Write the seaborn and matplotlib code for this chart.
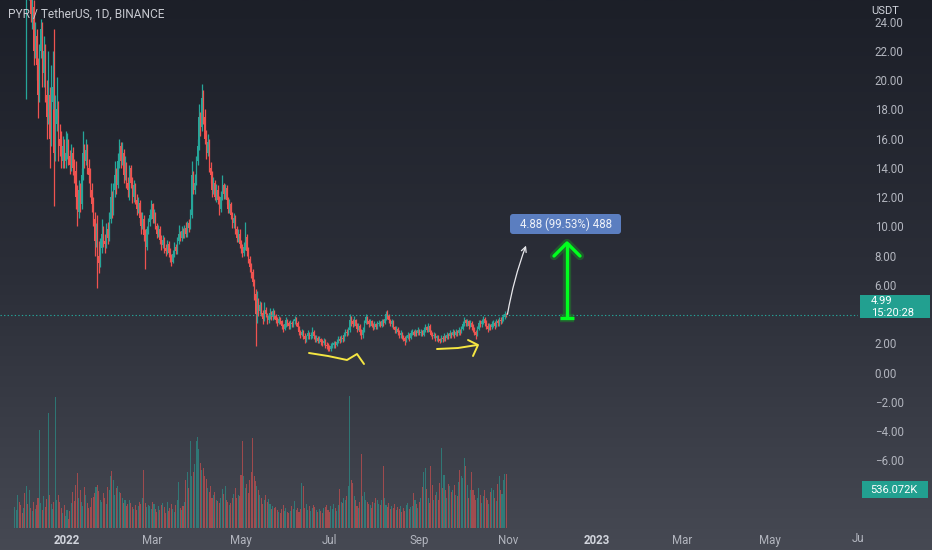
import numpy as np
import pandas as pd
import matplotlib
matplotlib.use('Agg')
import matplotlib.pyplot as plt
import matplotlib.dates as mdates
from matplotlib.colors import LinearSegmentedColormap
from matplotlib.patches import FancyBboxPatch, Rectangle
import seaborn as sns

# daily candles PYR/USDT (price axis units)
dates = pd.date_range('2021-11-26', '2022-10-31', freq='D')

first_open = 32.0
closes = [
    33, 34.5, 36, 35, 31.5, 30, 32, 27.5, 28.5, 27,
    27.5, 24.5, 25, 22, 23, 21, 19, 22, 23.5, 20.5,
    22, 19, 17.5, 19, 16, 18.5, 19.5, 15, 17, 18,
    16, 15.5, 14.5, 15.5, 14.5, 15, 15.8, 14.8, 14.2, 15,
    14, 13.8, 12, 11, 12.5, 11.5, 13.5, 15, 14.5, 15.2,
    14, 13.5, 12.5, 11.5, 10.5, 9, 9.6, 8, 7.5, 8.5,
    9.5, 9, 8.8, 9.8, 9.2, 10.5, 12, 11, 12.5, 13.5,
    12.8, 14.5, 15.5, 14.5, 15, 13.5, 14.2, 13, 12.5, 14,
    13, 12, 12.8, 11.8, 11.2, 11.6, 10.6, 10, 10.5, 9.4,
    8.6, 9.8, 10.3, 10.8, 11.5, 10.5, 10.9, 10, 9.5, 9.8,
    9.1, 8.7, 9.1, 8.5, 8.3, 8.8, 8.2, 7.9, 7.6, 8.1,
    8.6, 8.3, 9.0, 9.5, 9.2, 9.7, 9.4, 9.9, 9.5, 10.2,
    9.9, 10.8, 13.5, 12.5, 13.0, 14.5, 15.5, 17.5, 16.8, 18.8,
    17.5, 16, 15, 15.8, 14, 13.5, 12.5, 13, 12, 12.5,
    11.8, 11.2, 12, 12.8, 12.2, 12.6, 11.8, 11.2, 11.5, 10.8,
    10.2, 10.6, 9.8, 9.2, 9.5, 8.8, 8.5, 8.2, 8.6, 9.3,
    8.3, 7.8, 7.2, 6.9, 6.2, 5.4, 4.0, 4.8, 4.2, 4.6,
    4.1, 3.7, 4.3, 4.0, 3.6, 3.9, 4.1, 3.8, 4.2, 3.9,
    3.6, 3.4, 3.7, 3.5, 3.2, 3.0, 3.3, 3.6, 3.4, 3.2,
    3.4, 3.3, 3.5, 3.7, 3.4, 3.1, 2.8, 2.6, 2.8, 2.5,
    2.3, 2.5, 2.7, 2.5, 2.6, 2.8, 2.5, 2.3, 2.4, 2.2,
    2.3, 2.1, 2.0, 2.2, 1.9, 1.8, 1.7, 1.6, 1.8, 1.9,
    2.0, 1.9, 2.1, 2.3, 2.2, 2.4, 2.3, 2.6, 2.8, 2.7,
    2.9, 3.6, 3.5, 3.3, 3.6, 3.2, 3.0, 3.2, 2.8, 2.6,
    2.9, 3.4, 3.8, 3.5, 3.3, 3.5, 3.2, 3.1, 3.3, 3.1,
    3.3, 3.4, 3.2, 3.5, 3.4, 3.7, 4.0, 3.9, 3.6, 3.3,
    3.5, 3.1, 2.9, 3.0, 2.8, 2.6, 2.7, 2.5, 2.4, 2.2,
    2.4, 2.6, 2.4, 2.7, 2.8, 2.6, 2.8, 2.7, 2.9, 2.7,
    2.8, 2.6, 2.9, 3.1, 2.9, 3.2, 2.8, 2.6, 2.5, 2.6,
    2.4, 2.5, 2.3, 2.2, 2.4, 2.3, 2.5, 2.4, 2.6, 2.5,
    2.7, 2.6, 2.8, 2.6, 2.8, 2.7, 2.9, 2.8, 3.0, 3.3,
    3.6, 3.4, 3.5, 3.2, 3.4, 3.1, 3.0, 2.8, 2.6, 3.0,
    3.4, 3.3, 3.5, 3.7, 3.4, 3.2, 3.0, 3.2, 3.1, 3.3,
    3.4, 3.2, 3.5, 3.4, 3.6, 3.5, 3.7, 3.8, 4.0, 3.93,
]
highs = [
    34.5, 36, 37.5, 37, 36, 32.5, 33, 32.5, 30, 29.5,
    29, 28.5, 26.5, 25.5, 24, 23.5, 21.5, 22.5, 24.2, 24,
    23, 22.5, 20, 22, 19.5, 21, 22, 23.5, 19, 20.2,
    18.6, 17, 16.5, 16.2, 16, 16.5, 16.4, 16, 15.2, 15.6,
    15.4, 14.6, 14.5, 12.8, 13.2, 13, 14, 16.5, 15.6, 16,
    15.6, 14.6, 14, 13, 12, 11, 10.2, 10.8, 9, 9.2,
    10.5, 10, 9.5, 10.2, 10.3, 11, 13, 12.4, 13, 14.5,
    14, 15, 16, 15.8, 15.8, 15.3, 14.8, 14.4, 13.4, 14.2,
    14.2, 13.4, 13.2, 13, 12.2, 12, 11.8, 11, 11, 10.8,
    9.8, 10, 10.6, 11.2, 11.8, 11.6, 11.2, 11, 10.2, 10.1,
    10, 9.4, 9.4, 9.3, 8.8, 9.1, 9, 8.5, 8.1, 8.4,
    8.9, 8.8, 9.3, 10.1, 9.7, 10, 9.9, 10.1, 10.3, 10.4,
    10.5, 11.2, 14.5, 13.8, 13.6, 14.8, 16, 18.4, 17.8, 19.7,
    19.3, 18, 16.6, 16.3, 16, 14.4, 13.8, 13.4, 13.2, 12.9,
    12.8, 12.1, 12.4, 13.5, 13, 12.9, 12.8, 12, 11.9, 11.7,
    11, 10.9, 10.8, 10, 9.8, 9.8, 9.1, 8.8, 8.9, 10.3,
    9.5, 8.6, 8, 7.5, 7.1, 6.4, 5.7, 5.6, 5.1, 4.9,
    4.8, 4.3, 4.8, 4.5, 4.1, 4.1, 4.4, 4.2, 4.4, 4.3,
    4.0, 3.8, 3.9, 3.8, 3.6, 3.3, 3.5, 3.8, 3.7, 3.5,
    3.6, 3.5, 3.7, 3.9, 3.8, 3.5, 3.2, 2.9, 3.0, 2.9,
    2.7, 2.6, 2.9, 2.8, 2.8, 3.1, 2.9, 2.6, 2.6, 2.5,
    2.5, 2.4, 2.3, 2.4, 2.3, 2.1, 2.0, 1.9, 2.0, 2.1,
    2.2, 2.2, 2.3, 2.5, 2.5, 2.6, 2.6, 2.8, 3.0, 3.0,
    3.1, 4.0, 3.9, 3.7, 3.9, 3.7, 3.4, 3.4, 3.3, 3.0,
    3.1, 3.6, 4.0, 3.9, 3.7, 3.7, 3.6, 3.4, 3.5, 3.4,
    3.5, 3.6, 3.5, 3.7, 3.7, 3.9, 4.2, 4.3, 4.0, 3.7,
    3.7, 3.6, 3.2, 3.2, 3.1, 2.9, 2.9, 2.8, 2.6, 2.5,
    2.6, 2.8, 2.7, 2.9, 3.0, 2.9, 3.0, 2.9, 3.1, 3.0,
    3.0, 2.9, 3.1, 3.3, 3.2, 3.4, 3.3, 2.9, 2.8, 2.8,
    2.7, 2.6, 2.6, 2.4, 2.6, 2.5, 2.7, 2.6, 2.8, 2.7,
    2.9, 2.8, 3.0, 2.9, 3.0, 2.9, 3.1, 3.0, 3.2, 3.5,
    3.8, 3.7, 3.7, 3.6, 3.6, 3.5, 3.3, 3.1, 2.9, 3.2,
    3.6, 3.6, 3.7, 3.9, 3.8, 3.6, 3.4, 3.4, 3.3, 3.5,
    3.6, 3.5, 3.7, 3.7, 3.8, 3.8, 3.9, 4.0, 4.2, 4.1,
]
lows = [
    30.5, 32, 33.5, 34, 30.5, 28.5, 29, 26.5, 18.7, 26,
    25.5, 24, 23.5, 21, 21.5, 20, 17.4, 18.5, 21.5, 19.5,
    19.5, 18.5, 16, 17, 14, 15.5, 18, 11.4, 14.5, 16.5,
    14.5, 14.8, 14, 14, 14, 14, 14.6, 14.2, 13.6, 13.8,
    13.5, 13, 11.2, 10, 10.6, 11, 11.2, 13.2, 14, 14.2,
    13.6, 13, 12, 11, 10, 8, 8.6, 5.8, 6.8, 7.2,
    8.2, 8.6, 8.2, 8.5, 8.8, 9, 10.2, 10.6, 10.8, 12,
    12.2, 12.6, 14, 14, 14.2, 13, 13.2, 12.6, 12, 11.8,
    12.6, 11.6, 11.7, 11.5, 10.8, 10.9, 10.2, 9.5, 9.8, 9,
    7.1, 8.4, 9.5, 10, 10.5, 10.2, 10.2, 9.8, 9.2, 9.3,
    8.8, 8.4, 8.5, 8.2, 8, 8.1, 7.9, 7.6, 7.3, 7.5,
    7.9, 8.1, 8.1, 8.8, 9, 9, 9.2, 9.2, 9.3, 9.3,
    9.6, 9.8, 10.6, 12.2, 12.2, 12.8, 14.2, 15.2, 16.2, 16.5,
    17, 15.6, 14.6, 14.8, 13.7, 13, 12, 12.2, 11.8, 11.7,
    11.5, 10.8, 11, 11.8, 11.9, 11.9, 11.5, 10.9, 10.9, 10.5,
    9.9, 9.9, 9.5, 8.9, 8.9, 8.5, 8.2, 7.9, 8, 8.4,
    8, 7.5, 6.9, 6.5, 5.9, 5, 1.8, 3.4, 3.9, 4,
    3.9, 3.3, 3.5, 3.8, 3.3, 3.4, 3.7, 3.6, 3.6, 3.7,
    3.4, 3.2, 3.3, 3.3, 3.0, 2.8, 2.9, 3.1, 3.2, 3.0,
    3.0, 3.1, 3.1, 3.3, 3.2, 2.9, 2.6, 2.4, 2.5, 2.3,
    2.0, 2.1, 2.3, 2.3, 2.3, 2.4, 2.3, 2.1, 2.1, 2.0,
    2.0, 1.9, 1.8, 1.9, 1.7, 1.6, 1.5, 1.45, 1.5, 1.7,
    1.7, 1.7, 1.8, 2.0, 2.0, 2.1, 2.1, 2.2, 2.5, 2.5,
    2.6, 2.8, 3.2, 3.1, 3.2, 3.1, 2.8, 2.9, 2.6, 2.3,
    2.4, 2.8, 3.3, 3.3, 3.1, 3.2, 3.1, 2.9, 3.0, 3.0,
    3.0, 3.2, 3.1, 3.1, 3.2, 3.3, 3.6, 3.7, 3.4, 3.2,
    3.1, 3.0, 2.7, 2.7, 2.6, 2.4, 2.4, 2.3, 2.2, 1.9,
    2.1, 2.3, 2.2, 2.3, 2.6, 2.5, 2.5, 2.5, 2.6, 2.6,
    2.5, 2.5, 2.5, 2.8, 2.8, 2.8, 2.7, 2.5, 2.3, 2.4,
    2.2, 2.2, 2.1, 2.0, 2.1, 2.1, 2.2, 2.2, 2.3, 2.3,
    2.4, 2.4, 2.5, 2.4, 2.5, 2.5, 2.6, 2.6, 2.7, 2.9,
    3.2, 3.2, 3.2, 3.0, 3.1, 2.9, 2.8, 2.6, 2.3, 2.5,
    2.9, 3.1, 3.1, 3.3, 3.2, 3.0, 2.8, 2.9, 2.9, 3.0,
    3.1, 3.0, 3.1, 3.2, 3.2, 3.3, 3.4, 3.5, 3.7, 3.8,
]
# volume in thousands
volumes = [
    210, 180, 330, 260, 230, 150, 200, 350, 415, 240,
    380, 200, 170, 260, 190, 230, 300, 975, 250, 180,
    320, 210, 290, 1140, 330, 240, 190, 260, 1300, 280,
    330, 260, 200, 150, 230, 120, 180, 90, 170, 250,
    360, 270, 430, 545, 300, 380, 260, 220, 410, 330,
    250, 200, 210, 300, 310, 350, 410, 430, 370, 280,
    260, 350, 300, 240, 410, 380, 520, 565, 480, 330,
    400, 420, 360, 350, 300, 250, 280, 220, 240, 280,
    250, 210, 190, 230, 180, 220, 260, 240, 300, 580,
    250, 210, 230, 220, 190, 260, 240, 190, 160, 220,
    180, 230, 250, 210, 150, 260, 170, 200, 240, 190,
    160, 230, 280, 460, 200, 180, 220, 260, 480, 560,
    400, 860, 520, 560, 640, 860, 900, 780, 650, 580,
    600, 520, 490, 400, 360, 420, 300, 330, 360, 280,
    270, 250, 300, 390, 340, 420, 280, 260, 230, 250,
    300, 340, 400, 300, 330, 320, 530, 860, 520, 400,
    440, 350, 480, 560, 890, 520, 470, 420, 380, 330,
    300, 240, 280, 330, 260, 290, 240, 190, 220, 200,
    210, 180, 160, 150, 190, 230, 170, 200, 160, 150,
    170, 220, 190, 270, 180, 200, 160, 190, 450, 420,
    200, 240, 180, 220, 170, 200, 230, 210, 180, 160,
    190, 170, 150, 200, 210, 230, 180, 160, 220, 190,
    240, 200, 170, 230, 390, 260, 250, 300, 280, 320,
    420, 1310, 480, 450, 320, 280, 220, 200, 260, 730,
    320, 360, 280, 260, 240, 230, 200, 260, 250, 300,
    280, 240, 230, 280, 620, 300, 230, 210, 250, 190,
    220, 200, 240, 180, 210, 190, 220, 160, 200, 170,
    230, 250, 190, 210, 220, 350, 280, 240, 200, 260,
    300, 410, 560, 600, 390, 300, 250, 620, 430, 280,
    330, 360, 280, 450, 790, 400, 530, 380, 300, 440,
    420, 360, 380, 430, 330, 320, 460, 580, 520, 500,
    690, 620, 430, 300, 380, 560, 380, 330, 280, 300,
    400, 330, 250, 320, 380, 300, 280, 240, 360, 400,
    380, 300, 270, 440, 520, 380, 340, 480, 540, 536.072,
]

price_ticks = [-6, -4, -2, 0, 2, 6, 8, 10, 12, 14, 16, 18, 20, 22, 24]
month_ticks = ['2022-01-01', '2022-03-01', '2022-05-01', '2022-07-01', '2022-09-01',
               '2022-11-01', '2023-01-01', '2023-03-01', '2023-05-01']
month_labels = ['2022', 'Mar', 'May', 'Jul', 'Sep', 'Nov', '2023', 'Mar', 'May']

df = pd.DataFrame({'date': dates, 'close': closes, 'high': highs, 'low': lows, 'volume': volumes})
df['open'] = [first_open] + closes[:-1]
df['up'] = df['close'] >= df['open']

UP = '#26a69a'
DOWN = '#ef5350'
cores = np.where(df['up'], UP, DOWN)

sns.set_theme(style='dark')
plt.rcParams['font.family'] = ['Roboto', 'DejaVu Sans']

W, H = 932, 550
fig = plt.figure(figsize=(W / 100, H / 100), dpi=100)

# background gradient
bg = fig.add_axes([0, 0, 1, 1], zorder=0)
grad = np.linspace(0, 1, 256).reshape(-1, 1)
cmap = LinearSegmentedColormap.from_list('tv', ['#1c1f28', '#2b2e38', '#464953'])
bg.imshow(grad, aspect='auto', cmap=cmap, extent=[0, 1, 0, 1], origin='upper')
bg.axis('off')

pos = [0, 22 / H, 858 / W, 528 / H]
ax = fig.add_axes(pos, zorder=1)
ax.set_facecolor('none')
ax2 = ax.twinx()
ax2.set_position(pos)
ax2.set_zorder(2)
ax2.patch.set_visible(False)

x = mdates.date2num(df['date'])
x0 = mdates.date2num(pd.Timestamp('2022-01-01'))

# velas
ax.vlines(x, df['low'], df['high'], colors=cores, linewidth=0.9)
body_bottom = np.minimum(df['open'], df['close'])
body_h = np.maximum(np.abs(df['close'] - df['open']), 0.03)
ax.bar(x, body_h, bottom=body_bottom, width=0.75, color=cores, linewidth=0)

# volume
ax2.bar(x, df['volume'], width=0.75, color=cores, alpha=0.55, linewidth=0)
ax2.set_ylim(0, 1310 * 528 / 132)
ax2.set_yticks([])

ax.set_xlim(x0 - 67 / 1.45, x0 + (858 - 67) / 1.45)
ax.set_ylim((372.7 - 528) / 14.63, 372.7 / 14.63)

ax.axhline(3.93, color=UP, linestyle=(0, (1.2, 2)), linewidth=0.8)

ax.yaxis.tick_right()
ax.set_yticks(price_ticks)
ax.set_yticklabels([f'{v:.2f}'.replace('-', '\u2212') for v in price_ticks])
ax.tick_params(axis='y', length=0, pad=12, labelsize=8.3, labelcolor='#b2b5be')

ax.set_xticks(mdates.date2num(pd.to_datetime(month_ticks)))
ax.set_xticklabels(month_labels)
ax.tick_params(axis='x', length=0, pad=4, labelsize=8.3, labelcolor='#b2b5be')
for lab in ax.get_xticklabels():
    if lab.get_text() in ('2022', '2023'):
        lab.set_fontweight('bold')
        lab.set_color('#d1d4dc')
for a in (ax, ax2):
    for s in a.spines.values():
        s.set_visible(False)
    a.grid(False)

# overlay in image pixels for the drawings and labels
ov = fig.add_axes([0, 0, 1, 1], zorder=5)
ov.set_xlim(0, W)
ov.set_ylim(H, 0)
ov.axis('off')
ov.patch.set_visible(False)

ov.text(8, 14, 'PYR / TetherUS, 1D, BINANCE', fontsize=8.6, color='#c8cad1', va='center')
ov.add_patch(Rectangle((862, 0), 66, 17, color='#1c1f28', linewidth=0))
ov.text(871, 11, 'USDT', fontsize=8, color='#d1d4dc', va='center')
ov.text(852, 538, 'Ju', fontsize=8.3, color='#b2b5be', va='center')

# last price box
ov.add_patch(Rectangle((860, 295), 70, 23, color='#22a090', linewidth=0))
ov.text(871, 301, '4.99', fontsize=8, color='white', va='center')
ov.text(871, 312.5, '15:20:28', fontsize=8, color='white', va='center')
# volume box
ov.add_patch(Rectangle((862, 481), 66, 17, color='#22a090', linewidth=0))
ov.text(870, 490, '536.072K', fontsize=8, color='white', va='center')

# white arrow and measure label
ov.annotate('', xy=(527, 243), xytext=(507, 317),
            arrowprops=dict(arrowstyle='->', color='#e8e8ec', lw=0.9,
                            connectionstyle='arc3,rad=-0.05', mutation_scale=9))
ov.add_patch(FancyBboxPatch((510, 214), 111, 20, boxstyle='round,pad=0,rounding_size=3',
                            facecolor='#5b7ec0', edgecolor='none'))
ov.text(565.5, 224.5, '4.88 (99.53%) 488', fontsize=8.3, color='#eef1f8', ha='center', va='center')

# green arrow
for lw, col, al in [(6, '#1e7d2a', 0.55), (2.4, '#00ff1e', 1)]:
    ov.plot([567, 567], [318, 243], color=col, lw=lw, alpha=al, solid_capstyle='butt')
    ov.plot([554, 567, 580], [256, 243, 256], color=col, lw=lw, alpha=al, solid_capstyle='round')
    ov.plot([560, 574], [318, 318], color=col, lw=lw, alpha=al, solid_capstyle='butt')

# yellow marks
ov.plot([309, 328, 347, 357, 364], [353, 356, 360, 354, 364], color='#f5e642', lw=1.4)
ov.plot([437, 458, 477], [349, 348, 345], color='#f5e642', lw=1.4)
ov.plot([468, 478, 473], [340, 345, 356], color='#f5e642', lw=1.4)

fig.savefig('out.png', dpi=100)
